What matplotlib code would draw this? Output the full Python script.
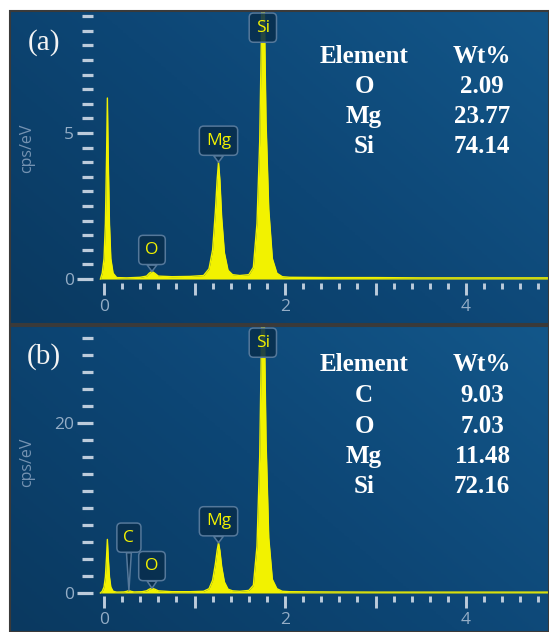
import numpy as np
import matplotlib.pyplot as plt
from matplotlib.colors import LinearSegmentedColormap
from matplotlib.patches import Rectangle
from matplotlib.ticker import FixedLocator, FuncFormatter

# ---- data ----
energy_a = [-0.04, -0.02, 0.0, 0.015, 0.028, 0.037, 0.046, 0.06, 0.075, 0.1, 0.14, 0.25,
            0.4, 0.47, 0.5, 0.53, 0.56, 0.6, 0.75, 0.95, 1.1, 1.16, 1.2, 1.23, 1.25, 1.265,
            1.28, 1.3, 1.33, 1.37, 1.42, 1.5, 1.6, 1.65, 1.69, 1.72, 1.74, 1.755, 1.77, 1.79,
            1.82, 1.86, 1.91, 1.97, 2.05, 2.5, 3.0, 3.5, 4.0, 4.5, 4.92]
counts_a = [0.0, 0.2, 0.7, 1.9, 4.2, 6.2, 4.2, 1.9, 0.7, 0.2, 0.05, 0.04,
            0.06, 0.1, 0.2, 0.26, 0.2, 0.1, 0.08, 0.09, 0.12, 0.35, 1.0, 2.3, 3.4, 4.0,
            3.4, 2.1, 0.9, 0.3, 0.15, 0.12, 0.15, 0.4, 1.9, 4.7, 8.5, 12.0, 9.5, 5.4,
            2.4, 0.7, 0.2, 0.08, 0.06, 0.05, 0.05, 0.04, 0.04, 0.04, 0.04]

energy_b = [-0.04, -0.02, 0.0, 0.015, 0.028, 0.037, 0.046, 0.06, 0.075, 0.1, 0.14, 0.22,
            0.255, 0.275, 0.295, 0.33, 0.42, 0.47, 0.5, 0.53, 0.56, 0.6, 0.75, 0.95, 1.1,
            1.16, 1.2, 1.23, 1.25, 1.265, 1.28, 1.3, 1.33, 1.37, 1.42, 1.5, 1.6, 1.65, 1.69,
            1.72, 1.74, 1.755, 1.77, 1.79, 1.82, 1.86, 1.91, 1.97, 2.05, 2.5, 3.0, 3.5, 4.0,
            4.5, 4.92]
counts_b = [0.0, 0.2, 0.7, 1.9, 4.3, 6.3, 4.3, 1.9, 0.7, 0.2, 0.1, 0.12,
            0.2, 0.3, 0.2, 0.12, 0.15, 0.25, 0.45, 0.55, 0.45, 0.25, 0.15, 0.15, 0.2,
            0.5, 1.5, 3.4, 5.0, 5.9, 5.0, 3.1, 1.3, 0.45, 0.25, 0.2, 0.3, 0.9, 5.5,
            16.0, 30.0, 45.0, 33.0, 18.0, 6.5, 1.6, 0.5, 0.2, 0.15, 0.12, 0.1, 0.1, 0.1,
            0.1, 0.1]

peaks_a = ["O", "Mg", "Si"]
peak_e_a = [0.53, 1.265, 1.755]
peak_c_a = [0.26, 4.0, 12.0]
peaks_b = ["C", "O", "Mg", "Si"]
peak_e_b = [0.275, 0.53, 1.265, 1.755]
peak_c_b = [0.3, 0.55, 5.9, 45.0]

table_el_a = ["O", "Mg", "Si"]
table_wt_a = ["2.09", "23.77", "74.14"]
table_el_b = ["C", "O", "Mg", "Si"]
table_wt_b = ["9.03", "7.03", "11.48", "72.16"]

yellow = "#f2f200"
tick_col = "#bccbdb"
lab_col = "#94adc6"
box_fc = (0.03, 0.18, 0.30, 0.88)
box_ec = "#55789a"

bg_cmap = LinearSegmentedColormap.from_list("bg", ["#0a3960", "#0d4675", "#13578a"])

fig = plt.figure(figsize=(5.49, 6.32), dpi=100)
fig.patch.set_facecolor("white")
ax_a = fig.add_axes([10 / 549, 308 / 632, 539 / 549, 313 / 632])
ax_b = fig.add_axes([10 / 549, 0, 539 / 549, 306 / 632])


def draw_panel(ax, energy, counts, ylim, ymajor, yminor, xspine_y, tag, tag_y,
               peaks, pe, pc, offsets, widths, els, wts, tab_y, ylab_y):
    gy, gx = np.mgrid[0:1:200j, 0:1:200j]
    ax.imshow(0.6 * gx + 0.4 * gy, extent=[0, 1, 0, 1], origin="lower",
              transform=ax.transAxes, cmap=bg_cmap, aspect="auto", zorder=0)

    ax.fill_between(energy, counts, 0, color=yellow, lw=0, zorder=2)
    ax.plot(energy, counts, color=yellow, lw=1.0, zorder=2)
    ax.set_xlim(-1.039, 4.917)
    ax.set_ylim(*ylim)

    for s in ax.spines.values():
        s.set_visible(False)
    ax.spines["left"].set_position(("data", -0.12))
    ax.spines["bottom"].set_position(("data", xspine_y))

    ax.yaxis.set_major_locator(FixedLocator(ymajor))
    ax.yaxis.set_minor_locator(FixedLocator(yminor))
    ax.xaxis.set_major_locator(FixedLocator([0, 1, 2, 3, 4]))
    ax.xaxis.set_minor_locator(FixedLocator(np.arange(0, 4.85, 0.2)))
    ax.xaxis.set_major_formatter(FuncFormatter(lambda v, p: "%d" % v if int(v) % 2 == 0 else ""))
    ax.tick_params(axis="y", which="major", length=11.5, width=2.3, color=tick_col,
                   labelsize=12.5, labelcolor=lab_col, pad=2.5)
    ax.tick_params(axis="y", which="minor", length=8, width=2.3, color=tick_col)
    ax.tick_params(axis="x", which="major", length=8.5, width=2.1, color=tick_col,
                   labelsize=12.5, labelcolor=lab_col, pad=3)
    ax.tick_params(axis="x", which="minor", length=4.5, width=2.1, color=tick_col)
    for lab in ax.get_xticklabels() + ax.get_yticklabels():
        lab.set_fontfamily("Open Sans")

    ax.text(0.0315, ylab_y, "cps/eV", rotation=90, transform=ax.transAxes,
            ha="center", va="center", fontsize=11.5, color="#7593b2", family="Open Sans")
    ax.text(0.063, tag_y, tag, transform=ax.transAxes, ha="center", va="center",
            fontsize=21, color="#f4f4f4", family="Liberation Serif")

    # peak labels
    for name, e, c in zip(peaks, pe, pc):
        bb = dict(boxstyle="round,pad=0.38,rounding_size=0.25", fc=box_fc, ec=box_ec, lw=1.1)
        if name == "Si":
            ax.annotate(name, xy=(e, 1), xycoords=("data", "axes fraction"),
                        xytext=(0, -12), textcoords="offset points", ha="center",
                        va="center", fontsize=12.5, color=yellow, family="Open Sans",
                        bbox=bb, zorder=5)
        else:
            ax.annotate(name, xy=(e, c), xytext=(0, offsets[name]), textcoords="offset points",
                        ha="center", va="center", fontsize=12.5, color=yellow,
                        family="Open Sans", bbox=bb, zorder=5,
                        arrowprops=dict(arrowstyle="wedge,tail_width=%.2f,shrink_factor=0.5" % widths[name],
                                        fc=box_fc, ec=box_ec, lw=1.1, shrinkA=0, shrinkB=0))

    # composition table
    tkw = dict(transform=ax.transAxes, ha="center", va="center", fontsize=18,
               color="white", family="Liberation Serif", weight="bold")
    ax.text(0.657, tab_y[0], "Element", **tkw)
    ax.text(0.876, tab_y[0], "Wt%", **tkw)
    for el, wt, ty in zip(els, wts, tab_y[1:]):
        ax.text(0.657, ty, el, **tkw)
        ax.text(0.876, ty, wt, **tkw)

    ax.add_patch(Rectangle((0, 0), 1, 1, transform=ax.transAxes, fill=False,
                           ec="#3a3a3a", lw=1.5, clip_on=False, zorder=10))


draw_panel(ax_a, energy_a, counts_a, (-1.54, 9.18), [0, 5], np.arange(0, 9.01, 0.5), -0.14,
           "(a)", 0.9, peaks_a, peak_e_a, peak_c_a, {"O": 15.5, "Mg": 15.5}, {"O": 0.55, "Mg": 0.55},
           table_el_a, table_wt_a, [0.856, 0.759, 0.663, 0.567], 0.562)
draw_panel(ax_b, energy_b, counts_b, (-4.59, 31.4), [0, 20], np.arange(0, 30.1, 2), -0.35,
           "(b)", 0.9, peaks_b, peak_e_b, peak_c_b, {"C": 38, "O": 16, "Mg": 15.5},
           {"C": 0.28, "O": 0.55, "Mg": 0.55},
           table_el_b, table_wt_b, [0.873, 0.772, 0.672, 0.573, 0.474], 0.556)

fig.savefig("out.png", dpi=100)
